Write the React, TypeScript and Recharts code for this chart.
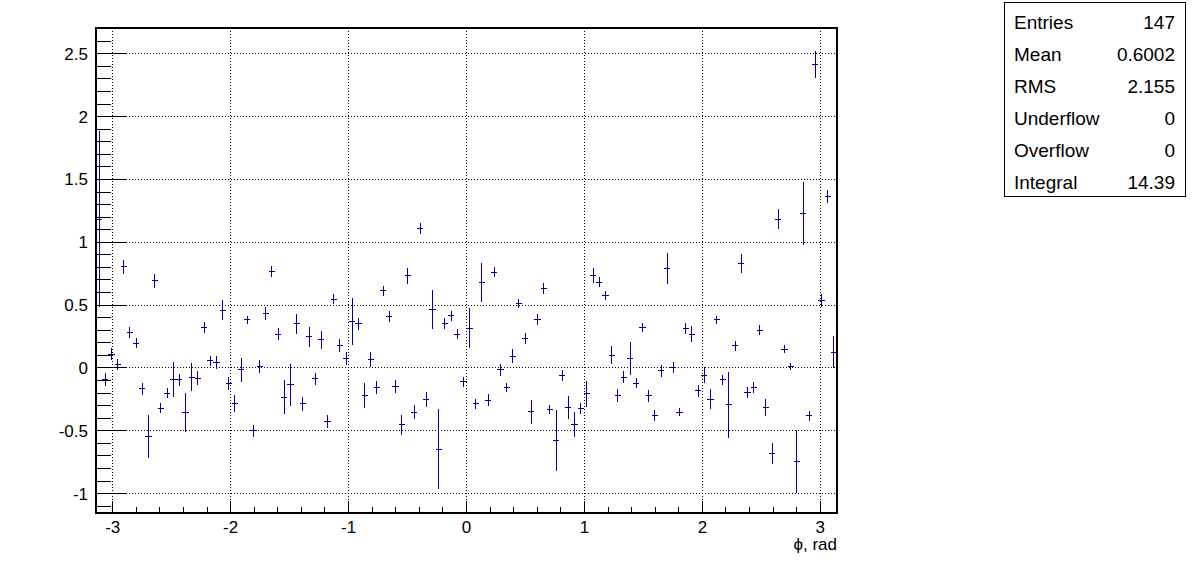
import React from 'react';
import {
  ComposedChart,
  Scatter,
  XAxis,
  YAxis,
  CartesianGrid,
  ErrorBar,
  ReferenceArea,
} from 'recharts';

const PHI_MIN = -Math.PI;
const PHI_MAX = Math.PI;
const N_BINS = 120;

const values = [
  1.185, -0.09, 0.109, 0.027, 0.806, 0.281, 0.196, -0.167, -0.546, 0.692,
  -0.321, -0.201, -0.09, -0.095, -0.353, -0.074, -0.08, 0.324, 0.058, 0.042,
  0.461, -0.122, -0.281, -0.016, 0.382, -0.501, 0.011, 0.435, 0.766, 0.27,
  -0.233, -0.135, 0.35, -0.286, 0.249, -0.087, 0.223, -0.427, 0.546, 0.178,
  0.077, 0.369, 0.35, -0.22, 0.069, -0.156, 0.613, 0.408, -0.148, -0.453,
  0.735, -0.353, 1.108, -0.249, 0.467, -0.647, 0.355, 0.414, 0.27, -0.109,
  0.316, -0.286, 0.682, -0.255, 0.761, -0.016, -0.156, 0.095, 0.515, 0.231,
  -0.347, 0.382, 0.634, -0.334, -0.578, -0.061, -0.313, -0.448, -0.321, -0.207,
  0.737, 0.682, 0.578, 0.103, -0.22, -0.074, 0.077, -0.122, 0.324, -0.223,
  -0.379, -0.024, 0.793, 0.003, -0.353, 0.316, 0.27, -0.183, -0.056, -0.247,
  0.382, -0.095, -0.294, 0.175, 0.833, -0.194, -0.154, 0.302, -0.313, -0.679,
  1.183, 0.149, 0.011, -0.745, 1.231, -0.382, 2.416, 0.536, 1.363, 0.125,
];

const errors = [
  0.7, 0.053, 0.046, 0.045, 0.056, 0.044, 0.04, 0.05, 0.17, 0.057,
  0.04, 0.04, 0.14, 0.047, 0.153, 0.113, 0.057, 0.044, 0.04, 0.05,
  0.083, 0.053, 0.066, 0.097, 0.032, 0.046, 0.053, 0.053, 0.042, 0.046,
  0.135, 0.17, 0.08, 0.057, 0.08, 0.046, 0.072, 0.053, 0.04, 0.052,
  0.05, 0.186, 0.05, 0.1, 0.06, 0.05, 0.04, 0.046, 0.05, 0.077,
  0.064, 0.057, 0.044, 0.06, 0.156, 0.32, 0.046, 0.04, 0.04, 0.04,
  0.16, 0.04, 0.157, 0.044, 0.04, 0.048, 0.037, 0.057, 0.036, 0.044,
  0.095, 0.044, 0.042, 0.036, 0.24, 0.042, 0.093, 0.1, 0.046, 0.104,
  0.057, 0.04, 0.037, 0.073, 0.049, 0.046, 0.133, 0.04, 0.037, 0.046,
  0.044, 0.044, 0.122, 0.042, 0.033, 0.042, 0.066, 0.046, 0.06, 0.077,
  0.033, 0.042, 0.26, 0.04, 0.074, 0.044, 0.044, 0.04, 0.07, 0.085,
  0.078, 0.033, 0.03, 0.25, 0.25, 0.037, 0.106, 0.05, 0.05, 0.128,
];

const xTicks = [
  -3, -2.8, -2.6, -2.4, -2.2, -2, -1.8, -1.6, -1.4, -1.2, -1, -0.8, -0.6, -0.4, -0.2,
  0, 0.2, 0.4, 0.6, 0.8, 1, 1.2, 1.4, 1.6, 1.8, 2, 2.2, 2.4, 2.6, 2.8, 3,
];
const xMajorTicks = [-3, -2, -1, 0, 1, 2, 3];

const yTicks = [
  -1.1, -1, -0.9, -0.8, -0.7, -0.6, -0.5, -0.4, -0.3, -0.2, -0.1, 0,
  0.1, 0.2, 0.3, 0.4, 0.5, 0.6, 0.7, 0.8, 0.9, 1, 1.1, 1.2, 1.3, 1.4, 1.5,
  1.6, 1.7, 1.8, 1.9, 2, 2.1, 2.2, 2.3, 2.4, 2.5, 2.6, 2.7,
];
const yMajorTicks = [-1, -0.5, 0, 0.5, 1, 1.5, 2, 2.5];

const statsLabels = ['Entries', 'Mean', 'RMS', 'Underflow', 'Overflow', 'Integral'];
const statsValues = ['147', '0.6002', '2.155', '0', '0', '14.39'];

const Y_MIN = -1.154;
const Y_MAX = 2.705;

const binWidth = (PHI_MAX - PHI_MIN) / N_BINS;
const data = values.map((v, i) => ({
  phi: PHI_MIN + (i + 0.5) * binWidth,
  v,
  ey: errors[i],
  ex: binWidth / 2,
}));

const FONT = '"Liberation Sans", Arial, Helvetica, sans-serif';
const COLOR = '#000099';

const isMajor = (v: number, list: number[]) => list.some((m) => Math.abs(m - v) < 1e-9);

const XTick = (props: any) => {
  const { x, y, payload } = props;
  const v = payload.value as number;
  const major = isMajor(v, xMajorTicks);
  return (
    <g>
      <line x1={x} x2={x} y1={y} y2={y - (major ? 12 : 6)} stroke="#000" strokeWidth={1} />
      {major && (
        <text x={x} y={y + 20} textAnchor="middle" fontSize={17} fontFamily={FONT} fill="#000">
          {String(v)}
        </text>
      )}
    </g>
  );
};

const YTick = (props: any) => {
  const { x, y, payload } = props;
  const v = payload.value as number;
  const major = isMajor(v, yMajorTicks);
  return (
    <g>
      <line x1={x} x2={x + (major ? 30 : 15)} y1={y} y2={y} stroke="#000" strokeWidth={1} />
      {major && (
        <text x={x - 8} y={y + 6} textAnchor="end" fontSize={17} fontFamily={FONT} fill="#000">
          {String(v)}
        </text>
      )}
    </g>
  );
};

const NoMarker = () => <g />;

export default function App() {
  return (
    <div
      style={{
        position: 'absolute',
        left: 0,
        top: 0,
        width: 1196,
        height: 572,
        background: '#fff',
        shapeRendering: 'crispEdges',
      } as any}
    >
      <ComposedChart
        width={1196}
        height={572}
        data={data}
        margin={{ top: 28, right: 359, bottom: 0, left: 0 }}
      >
        <CartesianGrid
          stroke="#000"
          strokeDasharray="1 2"
          horizontalValues={yMajorTicks}
          verticalValues={xMajorTicks}
        />
        <XAxis
          dataKey="phi"
          type="number"
          domain={[PHI_MIN, PHI_MAX]}
          allowDataOverflow
          ticks={xTicks}
          interval={0}
          height={59}
          tickSize={0}
          tickMargin={0}
          axisLine={false}
          tickLine={false}
          tick={<XTick />}
        />
        <YAxis
          dataKey="v"
          type="number"
          domain={[Y_MIN, Y_MAX]}
          allowDataOverflow
          ticks={yTicks}
          interval={0}
          width={96}
          tickSize={0}
          tickMargin={0}
          axisLine={false}
          tickLine={false}
          tick={<YTick />}
        />
        <Scatter data={data} dataKey="v" shape={<NoMarker />} isAnimationActive={false}>
          <ErrorBar dataKey="ey" direction="y" width={0} stroke={COLOR} strokeWidth={1} />
          <ErrorBar dataKey="ex" direction="x" width={0} stroke={COLOR} strokeWidth={1} />
        </Scatter>
        <ReferenceArea
          x1={PHI_MIN}
          x2={PHI_MAX}
          y1={Y_MIN}
          y2={Y_MAX}
          fill="none"
          fillOpacity={0}
          stroke="#000"
          strokeWidth={2}
          ifOverflow="visible"
        />
      </ComposedChart>
      <svg
        width={1196}
        height={572}
        style={{ position: 'absolute', left: 0, top: 0, pointerEvents: 'none' }}
      >
        <text x={837} y={550} textAnchor="end" fontSize={17} fontFamily={FONT} fill="#000">
          {'\u03D5, rad'}
        </text>
        <rect x={1004.5} y={2.5} width={181} height={194} fill="#fff" stroke="#000" strokeWidth={1} />
        {statsLabels.map((label, i) => (
          <g key={label}>
            <text x={1014} y={29 + i * 32} fontSize={19} fontFamily={FONT} fill="#000">
              {label}
            </text>
            <text x={1175} y={29 + i * 32} textAnchor="end" fontSize={19} fontFamily={FONT} fill="#000">
              {statsValues[i]}
            </text>
          </g>
        ))}
      </svg>
    </div>
  );
}
